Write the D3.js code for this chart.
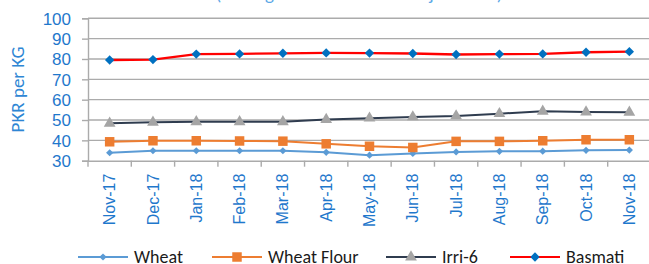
<!DOCTYPE html>
<html>
<head>
<meta charset="utf-8">
<script src="https://cdn.jsdelivr.net/npm/d3@7"></script>
<style>
  body { margin: 0; background: #fff; }
  svg { font-family: Calibri, Carlito, "Liberation Sans", "Open Sans", sans-serif; }
</style>
</head>
<body>
<div id="chart"></div>
<script>
const width = 649;
const height = 264;

const months = ["Nov-17", "Dec-17", "Jan-18", "Feb-18", "Mar-18", "Apr-18", "May-18",
  "Jun-18", "Jul-18", "Aug-18", "Sep-18", "Oct-18", "Nov-18"];

const wheat = [33.9, 34.9, 34.9, 34.9, 34.9, 34.1, 32.7, 33.6, 34.3, 34.6, 34.7, 35.1, 35.2];
const wheatFlour = [39.3, 39.8, 39.8, 39.7, 39.6, 38.3, 37.1, 36.5, 39.5, 39.5, 39.8, 40.3, 40.3];
const irri6 = [48.4, 48.9, 49.1, 49.1, 49.1, 50.2, 50.9, 51.5, 52, 53.1, 54.3, 53.9, 53.8];
const basmati = [79.5, 79.7, 82.4, 82.5, 82.8, 83, 82.9, 82.7, 82.2, 82.4, 82.5, 83.3, 83.6];

const yTicks = [30, 40, 50, 60, 70, 80, 90, 100];

// rot: the square is turned 45 degrees to make a diamond
const series = [
  { name: "Wheat", values: wheat, line: "#5B9BD5", marker: "#5B9BD5", shape: d3.symbolSquare, size: 26, rot: 45 },
  { name: "Wheat Flour", values: wheatFlour, line: "#ED7D31", marker: "#ED7D31", shape: d3.symbolSquare, size: 90, rot: 0 },
  { name: "Irri-6", values: irri6, line: "#2F3C4F", marker: "#A5A5A5", shape: d3.symbolTriangle, size: 60, rot: 0 },
  { name: "Basmati", values: basmati, line: "#FF0000", marker: "#0070C0", shape: d3.symbolSquare, size: 44, rot: 45 }
];

const margin = { left: 88, top: 18.3, right: -2, bottom: 103.3 };

const svg = d3.select("#chart").append("svg")
  .attr("width", width)
  .attr("height", height);

// title, mostly cut off at the top of the picture
svg.append("text")
  .attr("x", 359)
  .attr("y", -0.5)
  .attr("text-anchor", "middle")
  .attr("fill", "#5BA8E6")
  .style("font-size", "19px")
  .text("(Average Retail Prices in Major Cities)");

const x = d3.scaleBand()
  .domain(months)
  .range([margin.left, width - margin.right]);

const y = d3.scaleLinear()
  .domain([30, 100])
  .range([height - margin.bottom, margin.top]);

// grid
svg.append("g")
  .selectAll("line")
  .data(yTicks.filter(d => d > 30))
  .enter()
  .append("line")
  .attr("x1", margin.left)
  .attr("x2", width)
  .attr("y1", d => y(d))
  .attr("y2", d => y(d))
  .attr("stroke", "#ABABAB")
  .attr("stroke-width", 1.4);

// y axis
const yAxis = svg.append("g")
  .attr("transform", `translate(${margin.left},0)`)
  .call(d3.axisLeft(y).tickValues(yTicks).tickSize(6).tickPadding(11));
yAxis.select(".domain").attr("stroke", "#ABABAB").attr("stroke-width", 1.4);
yAxis.selectAll(".tick line").attr("stroke", "#ABABAB").attr("stroke-width", 1.4);
yAxis.selectAll("text")
  .attr("fill", "#1F78CC")
  .style("font-size", "17px")
  .attr("dy", "0.35em");

// x axis
const xAxis = svg.append("g")
  .attr("transform", `translate(0,${y(30)})`)
  .call(d3.axisBottom(x).tickSize(0).tickSizeOuter(0));
xAxis.select(".domain").attr("stroke", "#ABABAB").attr("stroke-width", 1.4);
xAxis.selectAll("text")
  .attr("fill", "#1F78CC")
  .style("font-size", "16px")
  .attr("text-anchor", "end")
  .attr("transform", "rotate(-90)")
  .attr("x", -13)
  .attr("y", 0)
  .attr("dy", "0.35em");

// tick marks between categories
svg.append("g")
  .selectAll("line")
  .data(months)
  .enter()
  .append("line")
  .attr("x1", d => x(d))
  .attr("x2", d => x(d))
  .attr("y1", y(30))
  .attr("y2", y(30) + 6)
  .attr("stroke", "#ABABAB")
  .attr("stroke-width", 1.4);

// axis title
svg.append("text")
  .attr("transform", `translate(24,${(y(100) + y(30)) / 2}) rotate(-90)`)
  .attr("text-anchor", "middle")
  .attr("fill", "#2E86D4")
  .style("font-size", "19px")
  .text("PKR per KG");

const line = d3.line()
  .x((d, i) => x(months[i]) + x.bandwidth() / 2)
  .y(d => y(d));

series.forEach(s => {
  const g = svg.append("g");
  g.append("path")
    .datum(s.values)
    .attr("d", line)
    .attr("fill", "none")
    .attr("stroke", s.line)
    .attr("stroke-width", s.name === "Basmati" ? 2.3 : 2);
  g.selectAll("path.pt")
    .data(s.values)
    .enter()
    .append("path")
    .attr("class", "pt")
    .attr("d", d3.symbol().type(s.shape).size(s.size))
    .attr("transform", (d, i) => `translate(${x(months[i]) + x.bandwidth() / 2},${y(d)}) rotate(${s.rot})`)
    .attr("fill", s.marker);
});

// legend
const legendX = [78, 212, 386, 510];
const legend = svg.append("g")
  .selectAll("g")
  .data(series)
  .enter()
  .append("g")
  .attr("transform", (d, i) => `translate(${legendX[i]},257)`);
legend.append("line")
  .attr("x1", 0).attr("x2", 50)
  .attr("stroke", d => d.line)
  .attr("stroke-width", 2);
legend.append("path")
  .attr("d", d => d3.symbol().type(d.shape).size(d.size)())
  .attr("transform", d => `translate(25,0) rotate(${d.rot})`)
  .attr("fill", d => d.marker);
legend.append("text")
  .attr("x", 56)
  .attr("dy", "0.35em")
  .attr("fill", "#1a1a1a")
  .style("font-size", "18px")
  .text(d => d.name);
</script>
</body>
</html>
